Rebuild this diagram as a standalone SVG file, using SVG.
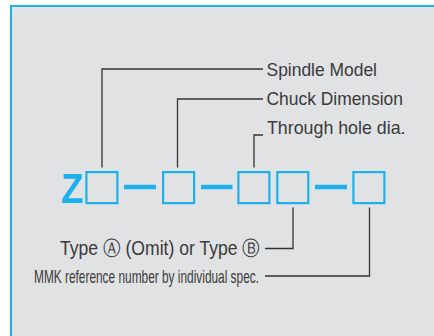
<svg xmlns="http://www.w3.org/2000/svg" width="434" height="336" viewBox="0 0 434 336">
<style>
.lbl{font-family:"Liberation Sans",Arial,sans-serif;fill:#3a3a3a}
.box{fill:none;stroke:#1cb1eb;stroke-width:2.2}
.dash{stroke:#1cb1eb;stroke-width:4.5}
.conn{fill:none;stroke:#333;stroke-width:1.3}
</style>
<rect width="434" height="336" fill="#ffffff"/>
<rect x="11" y="6" width="440" height="350" fill="#e1e2e4" stroke="#1cb1eb" stroke-width="2"/>
<g id="code">
<text x="0" y="0" transform="translate(61,203) scale(0.86,1)" font-family="'Liberation Sans',Arial,sans-serif" font-weight="bold" font-size="42.5" fill="#1cb1eb">Z</text>
<rect class="box" x="86.4" y="172.1" width="31" height="31"/>
<line class="dash" x1="124" y1="187" x2="156" y2="187"/>
<rect class="box" x="163.1" y="172.1" width="31" height="31"/>
<line class="dash" x1="201" y1="187" x2="232.5" y2="187"/>
<rect class="box" x="238.4" y="172.1" width="31" height="31"/>
<rect class="box" x="277.3" y="172.1" width="31" height="31"/>
<line class="dash" x1="315" y1="187" x2="347" y2="187"/>
<rect class="box" x="353.4" y="172.1" width="31" height="31"/>
</g>
<g id="spindle-model"><text class="lbl" x="266.5" y="75.7" font-size="18.5" textLength="110.5" lengthAdjust="spacingAndGlyphs">Spindle Model</text></g>
<g id="chuck-dimension"><text class="lbl" x="266.5" y="104.5" font-size="18.5" textLength="136.5" lengthAdjust="spacingAndGlyphs">Chuck Dimension</text></g>
<g id="through-hole"><text class="lbl" x="267" y="134" font-size="18.5" textLength="138.5" lengthAdjust="spacingAndGlyphs">Through hole dia.</text></g>
<g id="type"><text class="lbl" x="60" y="255" font-size="20" textLength="200" lengthAdjust="spacingAndGlyphs">Type Ⓐ (Omit) or Type Ⓑ</text></g>
<g id="mmk"><text class="lbl" x="34" y="282.7" font-size="18.5" textLength="225" lengthAdjust="spacingAndGlyphs">MMK reference number by individual spec.</text></g>
<g id="connectors">
<path class="conn" d="M102,167.5 V69 H263"/>
<path class="conn" d="M177.5,167.5 V99 H263"/>
<path class="conn" d="M254,167.5 V135 H263"/>
<path class="conn" d="M293,207.5 V248.5 H265"/>
<path class="conn" d="M369.5,207.5 V276 H265"/>
</g>
</svg>
